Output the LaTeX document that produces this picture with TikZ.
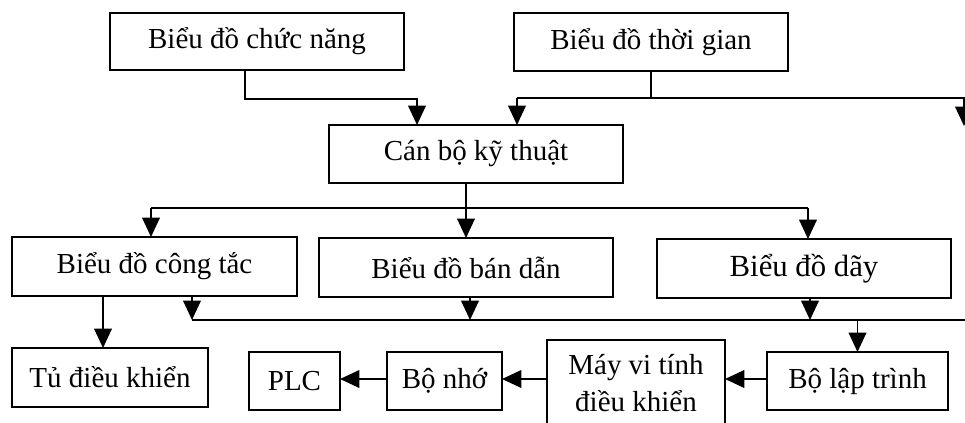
\documentclass[tikz,border=0pt]{standalone}
\usepackage{fontspec}
\setmainfont{Liberation Serif}
\usetikzlibrary{arrows.meta}
\tikzset{
  box/.style={draw, line width=1pt, inner sep=0pt, outer sep=0pt, align=center,
    font=\fontsize{16.5}{21}\selectfont},
  arr/.style={line width=1pt, -{Triangle[length=11pt,width=10pt]}},
  ln/.style={line width=1pt}
}
\begin{document}
\begin{tikzpicture}[x=0.02cm, y=-0.02cm]
\useasboundingbox (0,0) rectangle (965,423);
\clip (0,0) rectangle (965,423);
\node[box, minimum width=5.88cm, minimum height=1.14cm] (f1) at (257,41.5) {Biểu đồ chức năng};
\node[box, minimum width=5.48cm, minimum height=1.16cm] (f2) at (651,42) {Biểu đồ thời gian};
\node[box, minimum width=5.88cm, minimum height=1.16cm] (cb) at (476,154) {Cán bộ kỹ thuật};
\node[box, minimum width=5.70cm, minimum height=1.18cm] (c1) at (154.5,266.5) {Biểu đồ công tắc};
\node[box, minimum width=5.88cm, minimum height=1.18cm] (c2) at (466,267.5) {Biểu đồ bán dẫn};
\node[box, minimum width=5.88cm, minimum height=1.18cm, font=\fontsize{17.5}{21}\selectfont] (c3) at (804,268.5) {Biểu đồ dãy};
\node[box, minimum width=3.92cm, minimum height=1.18cm] (t1) at (110,377.5) {Tủ điều khiển};
\node[box, minimum width=1.82cm, minimum height=1.16cm] (plc) at (294.5,381) {PLC};
\node[box, minimum width=2.30cm, minimum height=1.16cm] (mem) at (444.5,381) {Bộ nhớ};
\node[box, minimum width=3.56cm, minimum height=1.72cm] (pc) at (636,383) {Máy vi tính\\điều khiển};
\node[box, minimum width=3.62cm, minimum height=1.16cm] (prog) at (857.5,381) {Bộ lập trình};
% top connectors
\coordinate (bA) at (0,99);
\coordinate (bB) at (0,98);
\coordinate (bC) at (0,208);
\coordinate (bD) at (0,320);
\coordinate (rend) at (990,98);
\coordinate (rtip) at (964,126);
\coordinate (rend2) at (990,320);
\draw[arr] ([xshift=-0.24cm]f1.south) -- ([xshift=-0.24cm]f1.south |- bA) -| ([xshift=-1.18cm]cb.north);
\draw[ln] (f2.south) -- (f2.south |- bB);
\draw[ln] ([xshift=0.82cm]cb.north |- bB) -- (rend);
\draw[arr] ([xshift=0.82cm]cb.north |- bB) -- ([xshift=0.82cm]cb.north);
\draw[arr] (rtip |- bB) -- (rtip);
% middle bus
\draw[ln] (c2.north |- cb.south) -- (c2.north |- bC);
\draw[ln] ([xshift=-0.07cm]c1.north |- bC) -- ([xshift=0.08cm]c3.north |- bC);
\draw[arr] ([xshift=-0.07cm]c1.north |- bC) -- ([xshift=-0.07cm]c1.north);
\draw[arr] (c2.north |- bC) -- (c2.north);
\draw[arr] ([xshift=0.08cm]c3.north |- bC) -- ([xshift=0.08cm]c3.north);
% lower bus
\draw[arr] ([xshift=0.75cm]c1.south) -- ([xshift=0.75cm]c1.south |- bD);
\draw[arr] ([xshift=0.08cm]c2.south) -- ([xshift=0.08cm]c2.south |- bD);
\draw[arr] ([xshift=0.12cm]c3.south) -- ([xshift=0.12cm]c3.south |- bD);
\draw[ln] ([xshift=0.75cm]c1.south |- bD) -- (rend2);
\draw[arr] (prog.north |- bD) -- (prog.north);
\draw[arr] ([xshift=-0.14cm]t1.north |- c1.south) -- ([xshift=-0.14cm]t1.north);
% bottom row
\draw[arr] ([yshift=0.04cm]prog.west) -- ([yshift=0.04cm]prog.west -| pc.east);
\draw[arr] ([yshift=0.04cm]pc.west |- mem.east) -- ([yshift=0.04cm]mem.east);
\draw[arr] ([yshift=0.04cm]mem.west) -- ([yshift=0.04cm]plc.east);
\end{tikzpicture}
\end{document}
